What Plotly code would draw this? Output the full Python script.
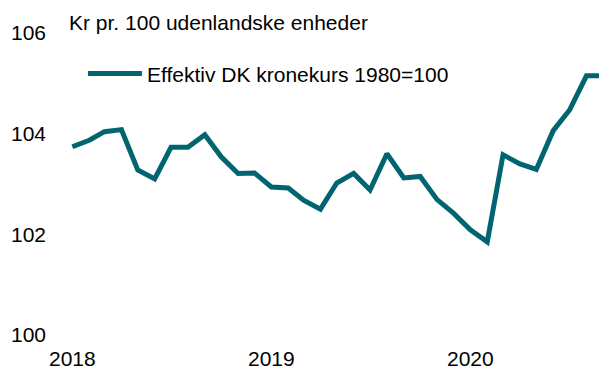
import plotly.graph_objects as go
import pandas as pd

# Effektiv kronekurs, månedlige observationer (1980=100)
months = pd.date_range("2018-01-01", "2020-09-01", freq="MS")
kronekurs = [
    103.74, 103.87, 104.04, 104.08, 103.28, 103.10, 103.73, 103.73, 103.98, 103.54, 103.21, 103.22,
    102.94, 102.92, 102.68, 102.50, 103.02, 103.21, 102.88, 103.60, 103.12, 103.15, 102.69, 102.42,
    102.09, 101.85, 103.58, 103.40, 103.29, 104.06, 104.47, 105.15, 105.15,
]
series_name = "Effektiv DK kronekurs 1980=100"
unit_label = "Kr pr. 100 udenlandske enheder"
y_ticks = [100, 102, 104, 106]

teal = "#006570"
font_family = "Liberation Sans, Arial, sans-serif"

fig = go.Figure()
fig.add_trace(go.Scatter(
    x=months, y=kronekurs, mode="lines", name=series_name,
    line=dict(color=teal, width=5),
))

fig.update_layout(
    width=599, height=369,
    margin=dict(l=50, r=0, t=33, b=34),
    paper_bgcolor="white", plot_bgcolor="white",
    font=dict(family=font_family, size=21, color="#000000"),
    showlegend=True,
    legend=dict(
        x=0.06, y=0.865, xanchor="left", yanchor="middle",
        bgcolor="rgba(0,0,0,0)", itemwidth=54,
        font=dict(size=21),
    ),
    xaxis=dict(
        type="date",
        range=["2017-11-21", "2020-08-24"],
        tick0="2018-01-01", dtick="M12", tickformat="%Y",
        showgrid=False, zeroline=False, showline=False, ticks="",
        ticklabelstandoff=9,
    ),
    yaxis=dict(
        range=[100, 106], tickvals=y_ticks,
        showgrid=False, zeroline=False, showline=False, ticks="",
        ticklabelstandoff=3,
    ),
    annotations=[dict(
        text=unit_label, xref="paper", yref="paper",
        x=0.031, y=1.035, xanchor="left", yanchor="middle",
        showarrow=False, font=dict(size=21),
    )],
)

fig.write_html("out.html")
